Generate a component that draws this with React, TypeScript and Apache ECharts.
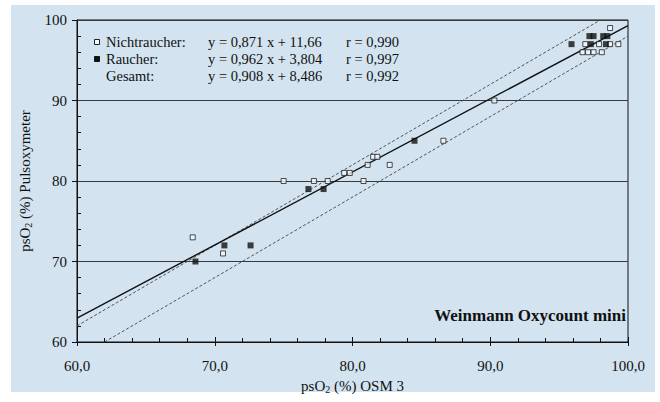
import React, { useEffect, useRef } from "react";
import * as echarts from "echarts";

// Nichtraucher (open squares)
const nichtraucherX = [68.4, 70.6, 75.0, 77.2, 78.2, 79.4, 79.8, 80.8, 81.1, 81.5, 81.8, 82.7, 86.6, 90.3, 96.7, 97.1, 97.5, 98.1, 96.9, 97.9, 98.7, 99.3, 98.7];
const nichtraucherY = [73, 71, 80, 80, 80, 81, 81, 80, 82, 83, 83, 82, 85, 90, 96, 96, 96, 96, 97, 97, 97, 97, 99];
// Raucher (filled squares)
const raucherX = [68.6, 70.7, 72.6, 76.8, 77.9, 84.5, 95.9, 97.3, 98.4, 97.2, 97.5, 98.2, 98.5];
const raucherY = [70, 72, 72, 79, 79, 85, 97, 97, 97, 98, 98, 98, 98];
// Lines (endpoints)
const gesamtLine = [[60, 62.97], [100, 99.29]];
const upperBand = [[60, 62], [98, 100]];
const lowerBand = [[62, 60], [100, 98]];

const legendNames = ["Nichtraucher:", "Raucher:", "Gesamt:"];
const legendEquations = ["y = 0,871 x + 11,66", "y = 0,962 x + 3,804", "y = 0,908 x + 8,486"];
const legendR = ["r = 0,990", "r = 0,997", "r = 0,992"];
const deviceLabel = "Weinmann Oxycount mini";

const SERIF = '"Liberation Serif", "Times New Roman", serif';
const BG = "#d3e4f0";
const INK = "#111111";

export default function App() {
  const ref = useRef<HTMLDivElement>(null);

  useEffect(() => {
    if (!ref.current) return;
    const chart = echarts.init(ref.current, undefined, { renderer: "svg" });

    const nameRich = {
      a: { fontFamily: SERIF, fontSize: 15, color: INK, lineHeight: 16, verticalAlign: "top" },
      s: { fontFamily: SERIF, fontSize: 10, color: INK, lineHeight: 10, padding: [6, 0, 0, 0] },
    };

    const pairs = (xs: number[], ys: number[]) => xs.map((x, i) => [x, ys[i]]);

    const legendY = [42, 59, 76];
    const graphic: any[] = [];
    legendNames.forEach((n, i) => {
      graphic.push({
        type: "text",
        x: 106,
        y: legendY[i],
        style: { text: n, font: `14.5px ${SERIF}`, fill: INK, textAlign: "left", textVerticalAlign: "middle" },
      });
      graphic.push({
        type: "text",
        x: 208,
        y: legendY[i],
        style: { text: legendEquations[i], font: `14.5px ${SERIF}`, fill: INK, textAlign: "left", textVerticalAlign: "middle" },
      });
      graphic.push({
        type: "text",
        x: 346,
        y: legendY[i],
        style: { text: legendR[i], font: `14.5px ${SERIF}`, fill: INK, textAlign: "left", textVerticalAlign: "middle" },
      });
    });
    graphic.push({
      type: "rect",
      shape: { x: 94.5, y: legendY[0] - 2.5, width: 5, height: 5 },
      style: { fill: "#f4f8fb", stroke: "#222", lineWidth: 1 },
    });
    graphic.push({
      type: "rect",
      shape: { x: 94.5, y: legendY[1] - 2.5, width: 5, height: 5 },
      style: { fill: "#111", stroke: "#111", lineWidth: 1 },
    });
    graphic.push({
      type: "text",
      x: 626,
      y: 315,
      style: { text: deviceLabel, font: `bold 17px ${SERIF}`, fill: INK, textAlign: "right", textVerticalAlign: "middle" },
    });

    const axisLabelStyle = { fontFamily: SERIF, fontSize: 15, color: INK };

    chart.setOption({
      animation: false,
      backgroundColor: "transparent",
      grid: {
        left: 77,
        right: 32,
        top: 20,
        bottom: 60,
        outerBoundsMode: "none",
        containLabel: false,
        show: true,
        borderColor: INK,
        borderWidth: 1,
        backgroundColor: "transparent",
      },
      xAxis: [
        {
          type: "value",
          min: 60,
          max: 100,
          interval: 10,
          name: "{a|psO}{s|2}{a| (%) OSM 3}",
          nameLocation: "middle",
          nameGap: 36,
          nameTextStyle: { rich: nameRich },
          axisLine: { show: true, lineStyle: { color: INK, width: 1 } },
          axisTick: { show: true, inside: false, length: 4, lineStyle: { color: INK } },
          axisLabel: { ...axisLabelStyle, margin: 16, formatter: (v: number) => v.toFixed(1).replace(".", ",") },
          splitLine: { show: false },
        },
        {
          type: "value",
          min: 60,
          max: 100,
          interval: 10,
          position: "bottom",
          axisLine: { show: false },
          axisTick: { show: true, inside: true, length: 5, lineStyle: { color: INK } },
          minorTick: { show: true, splitNumber: 5, length: 4, lineStyle: { color: INK } },
          axisLabel: { show: false },
          splitLine: { show: false },
        },
      ],
      yAxis: [
        {
          type: "value",
          min: 60,
          max: 100,
          interval: 10,
          name: "{a|psO}{s|2}{a| (%) Pulsoxymeter}",
          nameLocation: "middle",
          nameGap: 33,
          nameRotate: 90,
          nameTextStyle: { rich: nameRich },
          axisLine: { show: true, lineStyle: { color: INK, width: 1 } },
          axisTick: { show: true, inside: false, length: 5, lineStyle: { color: INK } },
          axisLabel: { ...axisLabelStyle, margin: 10 },
          splitLine: { show: true, lineStyle: { color: "#3a3a3a", width: 1 } },
        },
        {
          type: "value",
          min: 60,
          max: 100,
          interval: 10,
          position: "left",
          axisLine: { show: false },
          axisTick: { show: false, inside: true },
          minorTick: { show: true, splitNumber: 5, length: 4, lineStyle: { color: INK } },
          axisLabel: { show: false },
          splitLine: { show: false },
        },
      ],
      series: [
        {
          type: "line",
          data: upperBand,
          symbol: "none",
          lineStyle: { color: "#444", width: 0.9, type: [3, 2] },
          z: 1,
        },
        {
          type: "line",
          data: lowerBand,
          symbol: "none",
          lineStyle: { color: "#444", width: 0.9, type: [3, 2] },
          z: 1,
        },
        {
          type: "line",
          data: gesamtLine,
          symbol: "none",
          lineStyle: { color: INK, width: 1.4 },
          z: 2,
        },
        {
          type: "scatter",
          data: pairs(nichtraucherX, nichtraucherY),
          symbol: "rect",
          symbolSize: 5,
          itemStyle: { color: "#f4f8fb", borderColor: "#222", borderWidth: 1 },
          z: 3,
        },
        {
          type: "scatter",
          data: pairs(raucherX, raucherY),
          symbol: "rect",
          symbolSize: 6,
          itemStyle: { color: "#111" },
          z: 4,
        },
      ],
      graphic,
    });

    return () => chart.dispose();
  }, []);

  return (
    <div style={{ position: "fixed", left: 0, top: 0, width: 660, height: 402, background: "#ffffff" }}>
      <div style={{ position: "absolute", left: 11, top: 5, width: 644, height: 387, background: BG }} />
      <div ref={ref} style={{ position: "absolute", left: 0, top: 0, width: 660, height: 402 }} />
    </div>
  );
}
